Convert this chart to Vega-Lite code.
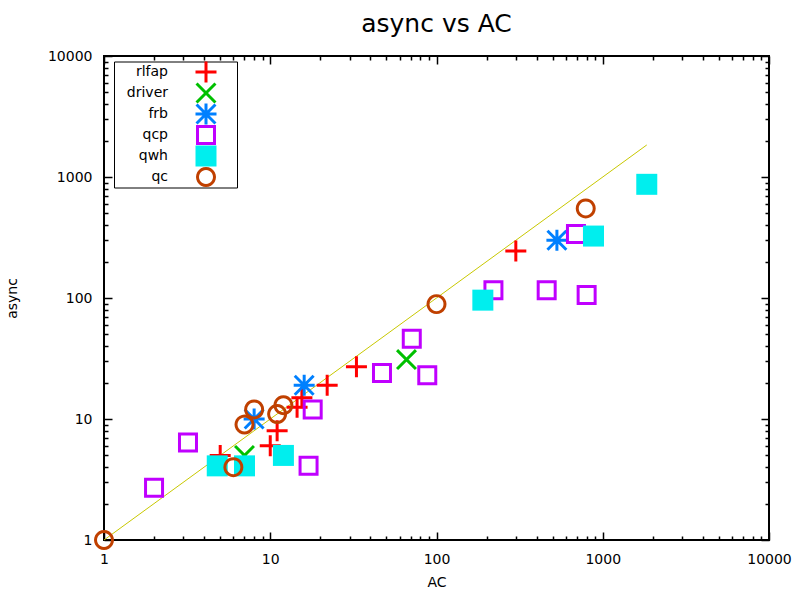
{
  "$schema": "https://vega.github.io/schema/vega-lite/v6.json",
  "width": 665,
  "height": 484,
  "autosize": "none",
  "padding": {"left": 104, "top": 56, "right": 31, "bottom": 60},
  "background": "white",
  "title": {"text": "async vs AC", "font": "DejaVu Sans", "fontSize": 25, "fontWeight": "normal", "color": "black", "anchor": "middle", "offset": 12},
  "config": {
    "view": {"stroke": "black", "strokeWidth": 2},
    "axis": {
      "grid": false,
      "domain": false,
      "tickColor": "black",
      "tickWidth": 1.5,
      "labelFont": "DejaVu Sans",
      "labelFontSize": 14,
      "labelColor": "black",
      "titleFont": "DejaVu Sans",
      "titleFontSize": 14,
      "titleFontWeight": "normal",
      "titleColor": "black",
      "labelOverlap": false,
      "labelBound": false,
      "labelFlush": false
    },
    "legend": {
      "orient": "none",
      "legendX": 10,
      "legendY": 5.5,
      "strokeColor": "black",
      "fillColor": "white",
      "padding": 0,
      "labelAlign": "right",
      "labelOffset": -48.5,
      "symbolOffset": 81.5,
      "labelFont": "DejaVu Sans",
      "labelFontSize": 14,
      "labelColor": "black",
      "symbolSize": 441,
      "symbolStrokeWidth": 0,
      "symbolOpacity": 1,
      "rowPadding": -2,
      "titleOrient": "right",
      "titlePadding": 20,
      "titleFontSize": 10
    }
  },
  "datasets": {
    "diag": [{"x": 1, "y": 1}, {"x": 1840, "y": 1840}],
    "pts": [
      {"series": "rlfap", "x": 5, "y": 5},
      {"series": "rlfap", "x": 10, "y": 6},
      {"series": "rlfap", "x": 11, "y": 8},
      {"series": "rlfap", "x": 14.5, "y": 12.5},
      {"series": "rlfap", "x": 15.5, "y": 15},
      {"series": "rlfap", "x": 22, "y": 19},
      {"series": "rlfap", "x": 33, "y": 27},
      {"series": "rlfap", "x": 300, "y": 245},
      {"series": "driver", "x": 7, "y": 5},
      {"series": "driver", "x": 66, "y": 31},
      {"series": "frb", "x": 8, "y": 10},
      {"series": "frb", "x": 16, "y": 19},
      {"series": "frb", "x": 530, "y": 300},
      {"series": "qcp", "x": 2, "y": 2.7},
      {"series": "qcp", "x": 3.2, "y": 6.4},
      {"series": "qcp", "x": 17, "y": 4.1},
      {"series": "qcp", "x": 18, "y": 12},
      {"series": "qcp", "x": 47, "y": 24},
      {"series": "qcp", "x": 71, "y": 46},
      {"series": "qcp", "x": 88, "y": 23},
      {"series": "qcp", "x": 220, "y": 116},
      {"series": "qcp", "x": 460, "y": 116},
      {"series": "qcp", "x": 800, "y": 106},
      {"series": "qcp", "x": 690, "y": 338},
      {"series": "qwh", "x": 4.8, "y": 4.1},
      {"series": "qwh", "x": 7, "y": 4.1},
      {"series": "qwh", "x": 12, "y": 5},
      {"series": "qwh", "x": 190, "y": 96},
      {"series": "qwh", "x": 880, "y": 325},
      {"series": "qwh", "x": 1840, "y": 870},
      {"series": "qc", "x": 1, "y": 1},
      {"series": "qc", "x": 6, "y": 4},
      {"series": "qc", "x": 7, "y": 9},
      {"series": "qc", "x": 8, "y": 12},
      {"series": "qc", "x": 11, "y": 11},
      {"series": "qc", "x": 12, "y": 13},
      {"series": "qc", "x": 100, "y": 89},
      {"series": "qc", "x": 790, "y": 550}
    ]
  },
  "layer": [
    {
      "data": {"name": "diag"},
      "mark": {"type": "line", "color": "#c8c800", "strokeWidth": 1},
      "encoding": {
        "x": {"field": "x", "type": "quantitative", "title": "AC",
          "scale": {"type": "log", "domain": [1, 10000], "nice": false},
          "axis": {"orient": "bottom", "values": [1,2,3,4,5,6,7,8,9,10,20,30,40,50,60,70,80,90,100,200,300,400,500,600,700,800,900,1000,2000,3000,4000,5000,6000,7000,8000,9000,10000],
            "labelExpr": "indexof([1,10,100,1000,10000], datum.value) >= 0 ? format(datum.value, 'd') : ''",
            "tickSize": {"condition": {"test": "indexof([1,10,100,1000,10000], datum.value) >= 0", "value": -8}, "value": -4},
            "labelPadding": 20, "titleY": 42, "titleBaseline": "middle"}},
        "y": {"field": "y", "type": "quantitative", "title": "async",
          "scale": {"type": "log", "domain": [1, 10000], "nice": false},
          "axis": {"orient": "left", "values": [1,2,3,4,5,6,7,8,9,10,20,30,40,50,60,70,80,90,100,200,300,400,500,600,700,800,900,1000,2000,3000,4000,5000,6000,7000,8000,9000,10000],
            "labelExpr": "indexof([1,10,100,1000,10000], datum.value) >= 0 ? format(datum.value, 'd') : ''",
            "tickSize": {"condition": {"test": "indexof([1,10,100,1000,10000], datum.value) >= 0", "value": -8}, "value": -4},
            "labelPadding": 20, "titleX": -92, "titleBaseline": "middle"}}
      }
    },
    {
      "data": {"name": "diag"},
      "mark": {"type": "line", "opacity": 0},
      "encoding": {
        "x": {"field": "x", "type": "quantitative",
          "scale": {"type": "log", "domain": [1, 10000], "nice": false},
          "axis": {"orient": "top", "title": null, "labels": false, "values": [1,2,3,4,5,6,7,8,9,10,20,30,40,50,60,70,80,90,100,200,300,400,500,600,700,800,900,1000,2000,3000,4000,5000,6000,7000,8000,9000,10000],
            "tickSize": {"condition": {"test": "indexof([1,10,100,1000,10000], datum.value) >= 0", "value": -8}, "value": -4}}},
        "y": {"field": "y", "type": "quantitative",
          "scale": {"type": "log", "domain": [1, 10000], "nice": false},
          "axis": {"orient": "right", "title": null, "labels": false, "values": [1,2,3,4,5,6,7,8,9,10,20,30,40,50,60,70,80,90,100,200,300,400,500,600,700,800,900,1000,2000,3000,4000,5000,6000,7000,8000,9000,10000],
            "tickSize": {"condition": {"test": "indexof([1,10,100,1000,10000], datum.value) >= 0", "value": -8}, "value": -4}}}
      }
    },
    {
      "data": {"name": "pts"},
      "mark": {"type": "point", "size": 441, "filled": true, "strokeWidth": 0, "opacity": 1},
      "encoding": {
        "x": {"field": "x", "type": "quantitative", "axis": null, "scale": {"type": "log", "domain": [1, 10000], "nice": false}},
        "y": {"field": "y", "type": "quantitative", "axis": null, "scale": {"type": "log", "domain": [1, 10000], "nice": false}},
        "shape": {"field": "series", "type": "nominal", "title": "\u00a0",
          "scale": {"domain": ["rlfap", "driver", "frb", "qcp", "qwh", "qc"],
            "range": [
              "M-1,-0.143H-0.143V-1H0.143V-0.143H1V0.143H0.143V1H-0.143V0.143H-1Z",
              "M-0.8,-1L1,0.8L0.8,1L-1,-0.8ZM-1,0.8L0.8,-1L1,-0.8L-0.8,1Z",
              "M-1,-0.143H-0.143V-1H0.143V-0.143H1V0.143H0.143V1H-0.143V0.143H-1ZM-0.8,-1L1,0.8L0.8,1L-1,-0.8ZM-1,0.8L0.8,-1L1,-0.8L-0.8,1Z",
              "M-0.952,-0.952H0.952V0.952H-0.952ZM-0.667,-0.667V0.667H0.667V-0.667Z",
              "M-1,-1H1V1H-1Z",
              "M0.952,0L0.9196,0.2464L0.8245,0.476L0.6732,0.6732L0.476,0.8245L0.2464,0.9196L0,0.952L-0.2464,0.9196L-0.476,0.8245L-0.6732,0.6732L-0.8245,0.476L-0.9196,0.2464L-0.952,0L-0.9196,-0.2464L-0.8245,-0.476L-0.6732,-0.6732L-0.476,-0.8245L-0.2464,-0.9196L0,-0.952L0.2464,-0.9196L0.476,-0.8245L0.6732,-0.6732L0.8245,-0.476L0.9196,-0.2464ZM0.667,0L0.6443,-0.1726L0.5776,-0.3335L0.4716,-0.4716L0.3335,-0.5776L0.1726,-0.6443L0,-0.667L-0.1726,-0.6443L-0.3335,-0.5776L-0.4716,-0.4716L-0.5776,-0.3335L-0.6443,-0.1726L-0.667,0L-0.6443,0.1726L-0.5776,0.3335L-0.4716,0.4716L-0.3335,0.5776L-0.1726,0.6443L0,0.667L0.1726,0.6443L0.3335,0.5776L0.4716,0.4716L0.5776,0.3335L0.6443,0.1726Z"
            ]}},
        "fill": {"field": "series", "type": "nominal", "title": "\u00a0",
          "scale": {"domain": ["rlfap", "driver", "frb", "qcp", "qwh", "qc"],
            "range": ["#ff0000", "#00c000", "#0080ff", "#c000ff", "#00eeee", "#c04000"]}}
      }
    }
  ],
  "resolve": {"axis": {"x": "independent", "y": "independent"}}
}
